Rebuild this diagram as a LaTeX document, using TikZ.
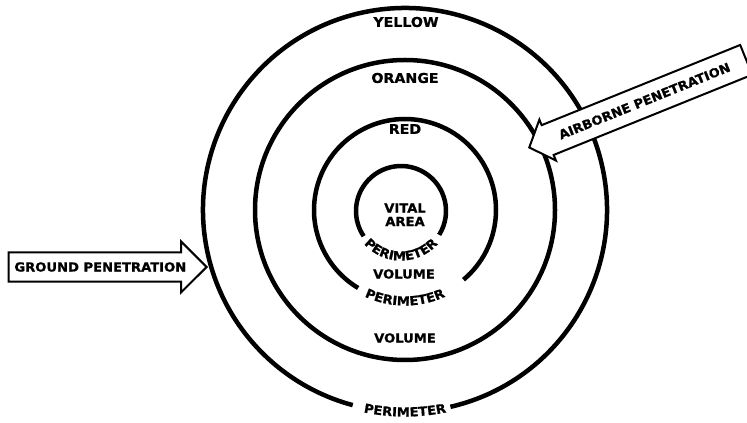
\documentclass[tikz,border=0pt]{standalone}
\usepackage{fontspec}
\usetikzlibrary{shapes.arrows,decorations.text}
\newfontfamily\zonefamily[FakeStretch=1.05, FakeBold=1]{DejaVu Sans}
\newcommand{\zonefont}{\zonefamily\bfseries\fontsize{13.5pt}{15pt}\selectfont}
\newcommand{\tagfont}{\zonefamily\bfseries\fontsize{12.5pt}{14pt}\selectfont}
\tikzset{
  zone-ring/.style={line width=4.5pt},
  zone-label/.style={font=\zonefont, inner sep=0pt},
  zone-tag/.style={font=\tagfont, inner sep=0pt},
  penetration/.style={single arrow, draw=black, fill=white, line width=2pt,
    font=\tagfont, text height=9.1pt, text depth=0pt, inner xsep=0pt},
  perimeter-text/.style={decorate, decoration={text along path, text align=center,
    text={|\tagfont|PERIMETER}}}
}
\begin{document}
\begin{tikzpicture}[x=1pt, y=1pt]
  \useasboundingbox (0,0) rectangle (747,423);
  \clip (0,0) rectangle (747,423);

  % Ring centres
  \coordinate (c) at (405,213);
  \coordinate (vc) at (401,212);

  % Rings (gaps for the perimeter labels)
  \draw[zone-ring] ([shift={(283:202)}]c) arc[start angle=283, end angle=615, radius=202];
  \draw[zone-ring] (c) circle[radius=150];
  \draw[zone-ring] ([shift={(310:91)}]c) arc[start angle=310, end angle=599, radius=91];
  \draw[zone-ring] ([shift={(328:45)}]vc) arc[start angle=328, end angle=574, radius=45];

  % Perimeter labels along the rings
  \path[perimeter-text] ([shift={(180:206.5)}]c) arc[start angle=180, end angle=360, radius=206.5];
  \path[perimeter-text] ([shift={(180:95.5)}]c) arc[start angle=180, end angle=360, radius=95.5];
  \path[perimeter-text] ([shift={(180:49.5)}]vc) arc[start angle=180, end angle=360, radius=49.5];

  % Zone names
  \node[zone-label] (yellow) at (406,401) {YELLOW};
  \node[zone-label] (orange) at (405,345) {ORANGE};
  \node[zone-label] (red) at (405,294) {RED};
  \node[zone-tag] (vital) at (405,215) {VITAL};
  \node[zone-tag] (area) at (405,201.5) {AREA};
  \node[zone-tag] (volume-inner) at (404,149) {VOLUME};
  \node[zone-tag] (volume-outer) at (405,85) {VOLUME};

  % Penetration arrows
  \node[penetration, anchor=tip, minimum height=198pt, inner ysep=9pt,
    single arrow head extend=11pt, single arrow tip angle=90] (ground) at (208,156)
    {GROUND PENETRATION};
  \node[penetration, anchor=tip, rotate=22, shape border rotate=180, minimum height=234pt,
    inner ysep=10.5pt, single arrow head extend=6pt, single arrow tip angle=96] (airborne)
    at (528,275) {AIRBORNE PENETRATION};
\end{tikzpicture}
\end{document}
